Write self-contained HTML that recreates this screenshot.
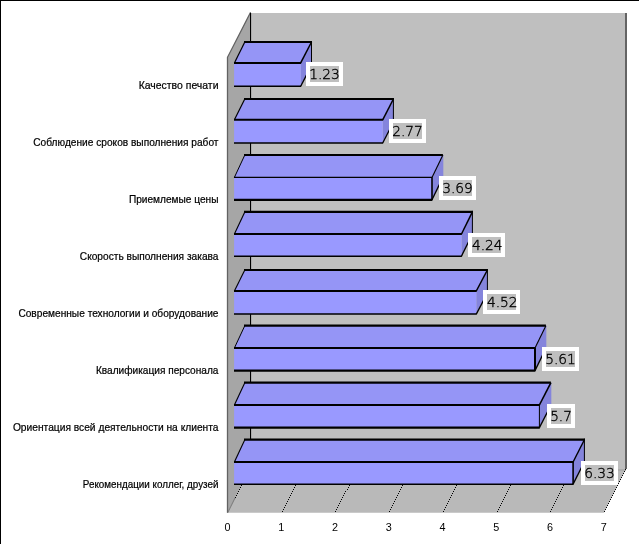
<!DOCTYPE html>
<html lang="ru"><head><meta charset="utf-8"><title>Диаграмма</title>
<style>html,body{margin:0;padding:0;background:#fff}body{width:640px;height:545px;overflow:hidden;position:relative}svg{position:absolute;left:0;top:0;display:block;will-change:transform}.c{font-family:"Liberation Sans",Arial,sans-serif;font-size:11.3px;fill:#000;stroke:#000;stroke-width:0.22px}.t{font-family:"Liberation Sans",Arial,sans-serif;font-size:10.8px;fill:#000}.v{font-family:"DejaVu Sans Light","DejaVu Sans","Liberation Sans",sans-serif;font-weight:200;font-size:14.9px;fill:#000;stroke:#000;stroke-width:0.4px}</style></head><body>
<svg width="640" height="545" viewBox="0 0 640 545">
<rect width="640" height="545" fill="#fff"/>
<rect x="0" y="0" width="639" height="1" fill="#000"/>
<rect x="0" y="0" width="1" height="544" fill="#000"/>
<rect x="250" y="13" width="376" height="456" fill="#bfbfbf"/>
<polygon points="250.6,12.2 227.5,57.3 227.5,512.7 250,469 250.6,469" fill="#a6a6a6"/>
<polygon points="250,469 626,469 604.0,512.7 227.7,512.7" fill="#b9b9b9"/>
<rect x="250" y="469" width="376" height="2" fill="#adadad"/>
<polyline points="250.6,12.2 227.5,57.3 227.5,512.7" fill="none" stroke="#626262" stroke-width="1.3"/>
<rect x="625" y="13" width="2" height="456" fill="#646464"/>
<rect x="250" y="13" width="1.1" height="456" fill="#000"/>
<line x1="227.7" y1="512.7" x2="235.2" y2="497.7" stroke="#6a6a6a" stroke-width="0.9"/>
<path d="M235 497.5h1M236 495.5h1M237 493.5h1M238 491.5h1M239 489.5h1M240 487.5h1M241 485.5h1M242 483.5h1M243 481.5h1M244 479.5h1M245 477.5h1M246 475.5h1M247 473.5h1M248 471.5h1M249 469.5h1M282 511.5h1M283 509.5h1M284 507.5h1M285 505.5h1M286 503.5h1M287 501.5h1M288 499.5h1M289 497.5h1M290 495.5h1M291 493.5h1M292 491.5h1M293 489.5h1M294 487.5h1M295 485.5h1M296 483.5h1M297 481.5h1M298 479.5h1M299 477.5h1M300 475.5h1M301 473.5h1M302 471.5h1M303 469.5h1M335 511.5h1M336 509.5h1M337 507.5h1M338 505.5h1M339 503.5h1M340 501.5h1M341 499.5h1M342 497.5h1M343 495.5h1M344 493.5h1M345 491.5h1M347 489.5h1M348 487.5h1M349 485.5h1M350 483.5h1M351 481.5h1M352 479.5h1M353 477.5h1M354 475.5h1M355 473.5h1M356 471.5h1M357 469.5h1M389 511.5h1M390 509.5h1M391 507.5h1M392 505.5h1M393 503.5h1M394 501.5h1M395 499.5h1M396 497.5h1M397 495.5h1M398 493.5h1M399 491.5h1M400 489.5h1M401 487.5h1M402 485.5h1M403 483.5h1M404 481.5h1M405 479.5h1M406 477.5h1M407 475.5h1M408 473.5h1M409 471.5h1M410 469.5h1M443 511.5h1M444 509.5h1M445 507.5h1M446 505.5h1M447 503.5h1M448 501.5h1M449 499.5h1M450 497.5h1M451 495.5h1M452 493.5h1M453 491.5h1M454 489.5h1M455 487.5h1M456 485.5h1M457 483.5h1M458 481.5h1M459 479.5h1M460 477.5h1M461 475.5h1M462 473.5h1M463 471.5h1M464 469.5h1M497 511.5h1M498 509.5h1M499 507.5h1M500 505.5h1M501 503.5h1M502 501.5h1M503 499.5h1M504 497.5h1M505 495.5h1M506 493.5h1M507 491.5h1M508 489.5h1M509 487.5h1M510 485.5h1M511 483.5h1M512 481.5h1M513 479.5h1M514 477.5h1M515 475.5h1M516 473.5h1M517 471.5h1M518 469.5h1M550 511.5h1M551 509.5h1M552 507.5h1M553 505.5h1M554 503.5h1M555 501.5h1M556 499.5h1M557 497.5h1M558 495.5h1M559 493.5h1M560 491.5h1M561 489.5h1M562 487.5h1M563 485.5h1M564 483.5h1M565 481.5h1M566 479.5h1M567 477.5h1M569 475.5h1M570 473.5h1M571 471.5h1M572 469.5h1M604 511.5h1M605 509.5h1M606 507.5h1M607 505.5h1M608 503.5h1M609 501.5h1M610 499.5h1M611 497.5h1M612 495.5h1M613 493.5h1M614 491.5h1M615 489.5h1M616 487.5h1M617 485.5h1M618 483.5h1M619 481.5h1M620 479.5h1M621 477.5h1M622 475.5h1M623 473.5h1M624 471.5h1M625 469.5h1" stroke="#000" stroke-width="1" fill="none" shape-rendering="crispEdges"/>
<polygon points="234.1,62.9 244.5,42.0 311.5,42.0 300.7,62.9" fill="#9595f6"/>
<polygon points="300.7,62.9 311.5,42.0 311.9,42.0 311.9,65.4 300.7,86.3" fill="#8484dc"/>
<rect x="234.1" y="62.9" width="66.6" height="23.4" fill="#9999ff"/>
<line x1="234.4" y1="62.9" x2="244.8" y2="42.0" stroke="#000" stroke-width="1.2"/>
<line x1="300.7" y1="62.9" x2="311.5" y2="42.0" stroke="#000" stroke-width="1.5"/>
<line x1="300.7" y1="86.3" x2="311.5" y2="65.4" stroke="#000" stroke-width="1.3"/>
<line x1="311.5" y1="41.0" x2="311.5" y2="65.4" stroke="#000" stroke-width="1.0"/>
<line x1="244.0" y1="42.0" x2="312.0" y2="42.0" stroke="#000" stroke-width="2.0"/>
<line x1="234.0" y1="62.9" x2="301.1" y2="62.9" stroke="#000" stroke-width="2.0"/>
<line x1="234.0" y1="86.3" x2="301.1" y2="86.3" stroke="#000" stroke-width="1.6"/>
<rect x="306" y="62" width="37" height="24" fill="#fff"/>
<rect x="310" y="66" width="29" height="16" fill="#bfbfbf"/>
<text class="v" x="309.2" y="79.2" textLength="30.6" lengthAdjust="spacingAndGlyphs">1.23</text>
<text class="c" x="138.7" y="88.8" textLength="79.8" lengthAdjust="spacingAndGlyphs">Качество печати</text>
<polygon points="234.1,119.8 244.5,99.0 393.4,99.0 382.7,119.8" fill="#9595f6"/>
<polygon points="382.7,119.8 393.4,99.0 393.8,99.0 393.8,122.2 382.7,143.0" fill="#8484dc"/>
<rect x="234.1" y="119.8" width="148.6" height="23.2" fill="#9999ff"/>
<line x1="234.4" y1="119.8" x2="244.8" y2="99.0" stroke="#000" stroke-width="1.2"/>
<line x1="382.7" y1="119.8" x2="393.4" y2="99.0" stroke="#000" stroke-width="1.5"/>
<line x1="382.7" y1="143.0" x2="393.4" y2="122.2" stroke="#000" stroke-width="1.3"/>
<line x1="393.4" y1="98.0" x2="393.4" y2="122.2" stroke="#000" stroke-width="1.0"/>
<line x1="244.0" y1="99.0" x2="393.9" y2="99.0" stroke="#000" stroke-width="2.0"/>
<line x1="234.0" y1="119.8" x2="383.1" y2="119.8" stroke="#000" stroke-width="2.0"/>
<line x1="234.0" y1="143.0" x2="383.1" y2="143.0" stroke="#000" stroke-width="1.5"/>
<rect x="389" y="119" width="37" height="24" fill="#fff"/>
<rect x="393" y="123" width="29" height="16" fill="#bfbfbf"/>
<text class="v" x="392.2" y="136.2" textLength="30.6" lengthAdjust="spacingAndGlyphs">2.77</text>
<text class="c" x="33.3" y="145.8" textLength="185.2" lengthAdjust="spacingAndGlyphs">Соблюдение сроков выполнения работ</text>
<polygon points="234.1,177.4 244.5,155.0 442.9,155.0 432.0,177.4" fill="#9595f6"/>
<polygon points="432.0,177.4 442.9,155.0 443.3,155.0 443.3,177.4 432.0,199.8" fill="#8484dc"/>
<rect x="234.1" y="177.4" width="197.9" height="22.4" fill="#9999ff"/>
<line x1="234.4" y1="177.4" x2="244.8" y2="155.0" stroke="#000" stroke-width="1.0"/>
<line x1="432.0" y1="177.4" x2="442.9" y2="155.0" stroke="#000" stroke-width="1.1"/>
<line x1="432.0" y1="199.8" x2="442.9" y2="177.4" stroke="#000" stroke-width="1.3"/>
<line x1="432.0" y1="177.4" x2="432.0" y2="199.8" stroke="#000" stroke-width="1.6"/>
<line x1="244.0" y1="155.0" x2="442.9" y2="155.0" stroke="#000" stroke-width="2.0"/>
<line x1="234.0" y1="177.4" x2="432.4" y2="177.4" stroke="#000" stroke-width="1.2"/>
<line x1="234.0" y1="199.8" x2="432.4" y2="199.8" stroke="#000" stroke-width="2.2"/>
<rect x="439" y="176" width="37" height="24" fill="#fff"/>
<rect x="443" y="180" width="29" height="16" fill="#bfbfbf"/>
<text class="v" x="442.2" y="193.2" textLength="30.6" lengthAdjust="spacingAndGlyphs">3.69</text>
<text class="c" x="128.9" y="202.8" textLength="89.6" lengthAdjust="spacingAndGlyphs">Приемлемые цены</text>
<polygon points="234.1,234.0 244.5,211.9 472.4,211.9 461.5,234.0" fill="#9595f6"/>
<polygon points="461.5,234.0 472.4,211.9 472.8,211.9 472.8,234.0 461.5,256.15" fill="#8484dc"/>
<rect x="234.1" y="234.0" width="227.4" height="22.1" fill="#9999ff"/>
<line x1="234.4" y1="234.0" x2="244.8" y2="211.9" stroke="#000" stroke-width="1.1"/>
<line x1="461.5" y1="234.0" x2="472.4" y2="211.9" stroke="#000" stroke-width="1.5"/>
<line x1="461.5" y1="256.15" x2="472.4" y2="234.0" stroke="#000" stroke-width="1.3"/>
<line x1="472.4" y1="210.85" x2="472.4" y2="234.0" stroke="#000" stroke-width="1.0"/>
<line x1="244.0" y1="211.9" x2="472.9" y2="211.9" stroke="#000" stroke-width="2.1"/>
<line x1="234.0" y1="234.0" x2="461.9" y2="234.0" stroke="#000" stroke-width="2.1"/>
<line x1="234.0" y1="256.15" x2="461.9" y2="256.15" stroke="#000" stroke-width="1.5"/>
<rect x="468" y="233" width="37" height="24" fill="#fff"/>
<rect x="472" y="237" width="29" height="16" fill="#bfbfbf"/>
<text class="v" x="472.0" y="250.2" textLength="30.6" lengthAdjust="spacingAndGlyphs">4.24</text>
<text class="c" x="79.8" y="259.8" textLength="138.7" lengthAdjust="spacingAndGlyphs">Скорость выполнения закава</text>
<polygon points="234.1,291.0 244.5,270.0 487.4,270.0 476.3,291.0" fill="#9595f6"/>
<polygon points="476.3,291.0 487.4,270.0 487.8,270.0 487.8,293.1 476.3,314.1" fill="#8484dc"/>
<rect x="234.1" y="291.0" width="242.2" height="23.1" fill="#9999ff"/>
<line x1="234.4" y1="291.0" x2="244.8" y2="270.0" stroke="#000" stroke-width="1.1"/>
<line x1="476.3" y1="291.0" x2="487.4" y2="270.0" stroke="#000" stroke-width="1.5"/>
<line x1="476.3" y1="314.1" x2="487.4" y2="293.1" stroke="#000" stroke-width="1.3"/>
<line x1="487.4" y1="269.0" x2="487.4" y2="293.1" stroke="#000" stroke-width="1.0"/>
<line x1="244.0" y1="270.0" x2="487.9" y2="270.0" stroke="#000" stroke-width="2.0"/>
<line x1="234.0" y1="291.0" x2="476.7" y2="291.0" stroke="#000" stroke-width="2.0"/>
<line x1="234.0" y1="314.1" x2="476.7" y2="314.1" stroke="#000" stroke-width="1.5"/>
<rect x="483" y="290" width="37" height="24" fill="#fff"/>
<rect x="487" y="294" width="29" height="16" fill="#bfbfbf"/>
<text class="v" x="487.0" y="307.2" textLength="30.6" lengthAdjust="spacingAndGlyphs">4.52</text>
<text class="c" x="18.4" y="316.8" textLength="200.1" lengthAdjust="spacingAndGlyphs">Современные технологии и оборудование</text>
<polygon points="234.1,348.0 244.5,325.7 545.9,325.7 535.0,348.0" fill="#9595f6"/>
<polygon points="535.0,348.0 545.9,325.7 546.3,325.7 546.3,348.3 535.0,370.6" fill="#8484dc"/>
<rect x="234.1" y="348.0" width="300.9" height="22.6" fill="#9999ff"/>
<line x1="234.4" y1="348.0" x2="244.8" y2="325.7" stroke="#000" stroke-width="1.0"/>
<line x1="535.0" y1="348.0" x2="545.9" y2="325.7" stroke="#000" stroke-width="1.1"/>
<line x1="535.0" y1="370.6" x2="545.9" y2="348.3" stroke="#000" stroke-width="1.3"/>
<line x1="535.0" y1="348.0" x2="535.0" y2="370.6" stroke="#000" stroke-width="2.0"/>
<line x1="244.0" y1="325.7" x2="545.9" y2="325.7" stroke="#000" stroke-width="2.2"/>
<line x1="234.0" y1="348.0" x2="535.4" y2="348.0" stroke="#000" stroke-width="2.0"/>
<line x1="234.0" y1="370.6" x2="535.4" y2="370.6" stroke="#000" stroke-width="2.2"/>
<rect x="542" y="347" width="37" height="24" fill="#fff"/>
<rect x="546" y="351" width="29" height="16" fill="#bfbfbf"/>
<text class="v" x="545.2" y="364.2" textLength="30.6" lengthAdjust="spacingAndGlyphs">5.61</text>
<text class="c" x="95.9" y="373.8" textLength="122.6" lengthAdjust="spacingAndGlyphs">Квалификация персонала</text>
<polygon points="234.1,405.0 244.5,382.7 550.9,382.7 539.4,405.0" fill="#9595f6"/>
<polygon points="539.4,405.0 550.9,382.7 551.3,382.7 551.3,405.3 539.4,427.6" fill="#8484dc"/>
<rect x="234.1" y="405.0" width="305.3" height="22.6" fill="#9999ff"/>
<line x1="234.4" y1="405.0" x2="244.8" y2="382.7" stroke="#000" stroke-width="1.1"/>
<line x1="539.4" y1="405.0" x2="550.9" y2="382.7" stroke="#000" stroke-width="1.6"/>
<line x1="539.4" y1="427.6" x2="550.9" y2="405.3" stroke="#000" stroke-width="1.3"/>
<line x1="539.4" y1="405.0" x2="539.4" y2="427.6" stroke="#000" stroke-width="1.0"/>
<line x1="244.0" y1="382.7" x2="550.9" y2="382.7" stroke="#000" stroke-width="2.2"/>
<line x1="234.0" y1="405.0" x2="539.8" y2="405.0" stroke="#000" stroke-width="2.0"/>
<line x1="234.0" y1="427.6" x2="539.8" y2="427.6" stroke="#000" stroke-width="2.2"/>
<rect x="547" y="404" width="28" height="24" fill="#fff"/>
<rect x="551" y="408" width="20" height="16" fill="#bfbfbf"/>
<text class="v" x="550.2" y="421.2" textLength="21.6" lengthAdjust="spacingAndGlyphs">5.7</text>
<text class="c" x="12.9" y="430.8" textLength="205.6" lengthAdjust="spacingAndGlyphs">Ориентация всей деятельности на клиента</text>
<polygon points="234.1,462.0 244.5,439.7 584.4,439.7 573.1,462.0" fill="#9595f6"/>
<polygon points="573.1,462.0 584.4,439.7 584.8,439.7 584.8,461.8 573.1,484.15" fill="#8484dc"/>
<rect x="234.1" y="462.0" width="339.0" height="22.1" fill="#9999ff"/>
<line x1="234.4" y1="462.0" x2="244.8" y2="439.7" stroke="#000" stroke-width="1.1"/>
<line x1="573.1" y1="462.0" x2="584.4" y2="439.7" stroke="#000" stroke-width="1.4"/>
<line x1="573.1" y1="484.15" x2="584.4" y2="461.8" stroke="#000" stroke-width="1.3"/>
<line x1="584.4" y1="438.6" x2="584.4" y2="461.8" stroke="#000" stroke-width="1.0"/>
<line x1="573.1" y1="462.0" x2="573.1" y2="484.15" stroke="#000" stroke-width="1.6"/>
<line x1="244.0" y1="439.7" x2="584.9" y2="439.7" stroke="#000" stroke-width="2.2"/>
<line x1="234.0" y1="462.0" x2="573.5" y2="462.0" stroke="#000" stroke-width="2.0"/>
<line x1="234.0" y1="484.15" x2="573.5" y2="484.15" stroke="#000" stroke-width="1.5"/>
<rect x="581" y="461" width="37" height="24" fill="#fff"/>
<rect x="585" y="465" width="29" height="16" fill="#bfbfbf"/>
<text class="v" x="584.2" y="478.2" textLength="30.6" lengthAdjust="spacingAndGlyphs">6.33</text>
<text class="c" x="82.8" y="487.8" textLength="135.7" lengthAdjust="spacingAndGlyphs">Рекомендации коллег, друзей</text>
<text class="t" x="227.5" y="531" text-anchor="middle">0</text>
<text class="t" x="281.3" y="531" text-anchor="middle">1</text>
<text class="t" x="335.0" y="531" text-anchor="middle">2</text>
<text class="t" x="388.8" y="531" text-anchor="middle">3</text>
<text class="t" x="442.5" y="531" text-anchor="middle">4</text>
<text class="t" x="496.3" y="531" text-anchor="middle">5</text>
<text class="t" x="550.0" y="531" text-anchor="middle">6</text>
<text class="t" x="603.8" y="531" text-anchor="middle">7</text>
</svg></body></html>
